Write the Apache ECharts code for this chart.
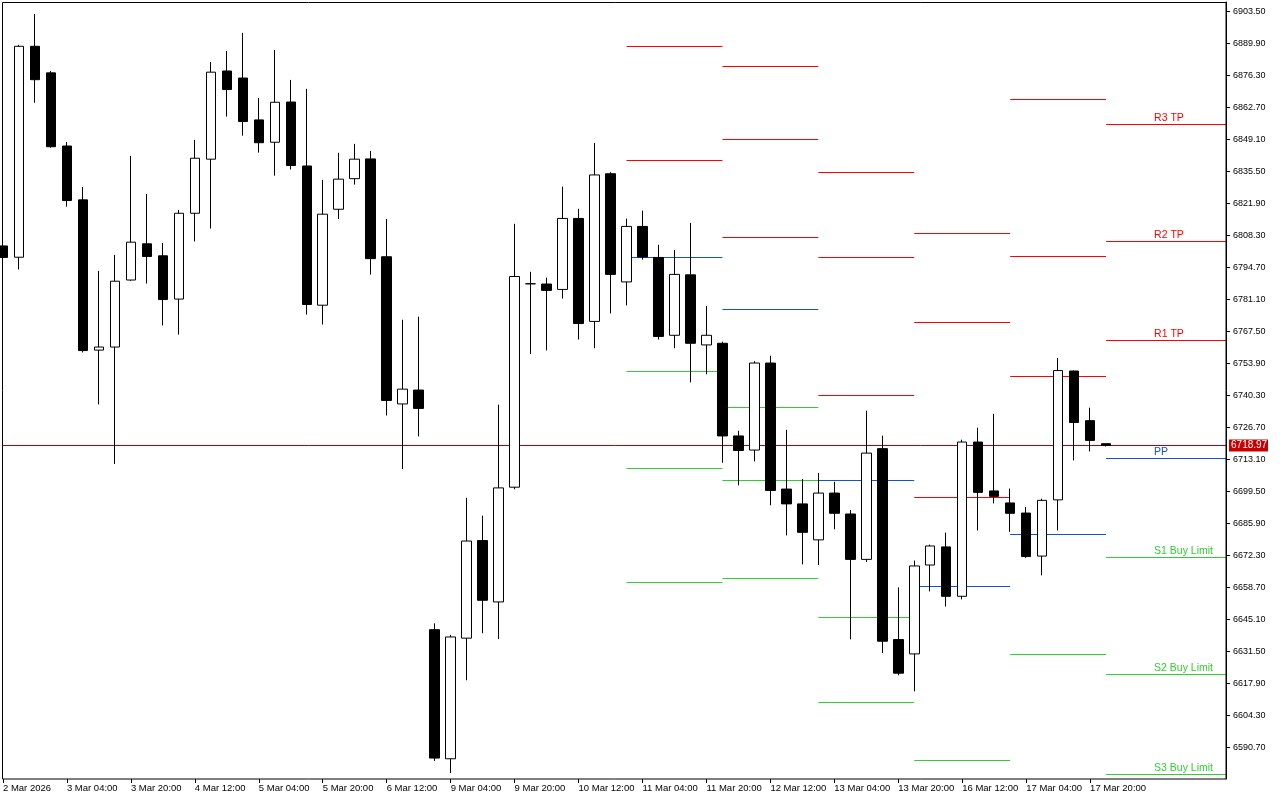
<!DOCTYPE html>
<html><head><meta charset="utf-8">
<script src="https://cdn.jsdelivr.net/npm/echarts@6/dist/echarts.min.js"></script>
<style>html,body{margin:0;padding:0;background:#fff}#c{width:1280px;height:800px}</style>
</head><body><div id="c"></div>
<script>
// ---- bar times (H4) ----
const barTimes = [
 '2 Mar 2026','2 Mar 16:00','2 Mar 20:00',
 '3 Mar 00:00','3 Mar 04:00','3 Mar 08:00','3 Mar 12:00','3 Mar 16:00','3 Mar 20:00',
 '4 Mar 00:00','4 Mar 04:00','4 Mar 08:00','4 Mar 12:00','4 Mar 16:00','4 Mar 20:00',
 '5 Mar 00:00','5 Mar 04:00','5 Mar 08:00','5 Mar 12:00','5 Mar 16:00','5 Mar 20:00',
 '6 Mar 00:00','6 Mar 04:00','6 Mar 08:00','6 Mar 12:00','6 Mar 16:00','6 Mar 20:00',
 '9 Mar 00:00','9 Mar 04:00','9 Mar 08:00','9 Mar 12:00','9 Mar 16:00','9 Mar 20:00',
 '10 Mar 00:00','10 Mar 04:00','10 Mar 08:00','10 Mar 12:00','10 Mar 16:00','10 Mar 20:00',
 '11 Mar 00:00','11 Mar 04:00','11 Mar 08:00','11 Mar 12:00','11 Mar 16:00','11 Mar 20:00',
 '12 Mar 00:00','12 Mar 04:00','12 Mar 08:00','12 Mar 12:00','12 Mar 16:00','12 Mar 20:00',
 '13 Mar 00:00','13 Mar 04:00','13 Mar 08:00','13 Mar 12:00','13 Mar 16:00','13 Mar 20:00',
 '16 Mar 00:00','16 Mar 04:00','16 Mar 08:00','16 Mar 12:00','16 Mar 16:00','16 Mar 20:00',
 '17 Mar 00:00','17 Mar 04:00','17 Mar 08:00','17 Mar 12:00','17 Mar 16:00','17 Mar 20:00',
 '18 Mar 00:00'
];
const emptySlots = ['', '', '', '', '', '', '', ''];

// ---- OHLC ----
const opens = [6803.8,6799.0,6888.7,6877.4,6846.3,6823.4,6759.5,6760.8,6789.3,6804.7,
 6799.6,6781.2,6817.7,6840.7,6878.2,6875.2,6857.4,6847.9,6865.0,6837.8,
 6778.6,6819.4,6832.4,6840.8,6799.2,6736.6,6742.5,6640.6,6585.7,6637.0,
 6678.5,6652.4,6701.2,6787.7,6787.6,6785.3,6815.5,6771.7,6834.5,6788.5,
 6812.1,6798.9,6765.8,6791.5,6761.7,6762.4,6723.0,6717.0,6754.0,6700.4,
 6694.1,6678.8,6698.7,6689.8,6670.5,6717.6,6636.4,6630.3,6668.1,6675.8,
 6654.8,6720.4,6699.6,6694.5,6690.2,6671.9,6695.8,6750.6,6729.5,6719.7];
const highs = [6806.0,6889.3,6902.4,6878.2,6848.0,6828.9,6793.2,6800.0,6842.1,6825.9,
 6805.1,6819.1,6848.9,6882.0,6886.7,6894.4,6866.7,6887.1,6874.4,6870.6,
 6831.9,6843.4,6847.2,6844.2,6815.3,6772.4,6773.7,6643.3,6638.4,6696.7,
 6689.1,6736.3,6813.2,6792.8,6790.3,6829.0,6819.6,6847.6,6835.2,6815.4,
 6818.8,6804.3,6802.1,6813.6,6778.3,6763.1,6725.2,6754.8,6757.1,6725.6,
 6704.7,6707.2,6703.5,6691.5,6733.7,6723.1,6658.6,6670.0,6676.8,6681.9,
 6721.4,6726.5,6732.4,6700.6,6692.8,6696.3,6756.2,6750.8,6735.0,6719.8];
const lows = [6796.0,6793.8,6864.7,6845.6,6820.5,6758.5,6736.4,6711.1,6789.0,6787.8,
 6770.0,6766.1,6805.7,6811.2,6858.8,6850.7,6843.5,6833.7,6836.3,6774.6,
 6770.4,6815.3,6829.9,6791.6,6731.7,6708.9,6722.8,6584.8,6579.6,6619.1,
 6639.1,6636.6,6700.3,6757.8,6759.4,6781.4,6764.0,6760.3,6775.1,6778.5,
 6798.0,6764.0,6760.3,6745.8,6749.2,6711.6,6702.0,6712.2,6693.5,6680.7,
 6668.4,6668.1,6683.3,6636.5,6669.4,6630.7,6621.2,6614.4,6656.9,6650.5,
 6653.5,6682.8,6694.3,6682.2,6671.1,6663.7,6682.8,6712.6,6716.4,6718.5];
const closes = [6798.9,6888.7,6874.5,6846.0,6823.1,6759.3,6760.8,6788.8,6805.4,6799.3,
 6781.0,6817.7,6841.1,6877.7,6870.3,6856.7,6847.7,6864.9,6838.0,6778.9,
 6817.3,6832.2,6840.7,6798.4,6738.1,6742.9,6734.7,6586.0,6637.5,6678.3,
 6653.1,6700.9,6790.8,6787.7,6784.9,6815.5,6770.8,6834.0,6791.7,6812.1,
 6799.1,6765.3,6791.7,6762.4,6765.8,6723.0,6716.8,6754.0,6699.8,6694.1,
 6682.0,6698.7,6690.1,6670.5,6715.7,6635.7,6622.1,6667.7,6676.2,6654.8,
 6720.4,6699.0,6697.3,6690.1,6671.7,6695.6,6750.8,6728.7,6721.1,6718.97];
const currentPrice = 6718.97;

// ---- daily pivot levels (bar index where each day starts / ends) ----
const pivotStart = [39, 45, 51, 57, 63, 69];
const pivotEnd   = [45, 51, 57, 63, 69, null];
const levelR3 = [null,   6880.3, 6835.3, 6809.4, 6866.1, 6855.7];
const levelR2 = [6888.8, 6849.2, 6799.2, 6771.5, 6799.5, 6806.0];
const levelR1 = [6840.3, 6807.5, 6740.4, 6697.0, 6748.6, 6763.9];
const levelPP = [6799.2, 6776.9, 6704.3, 6659.2, 6681.4, 6713.7];
const levelS1 = [6750.7, 6735.2, 6646.0, 6585.0, 6630.4, 6671.7];
const levelS2 = [6709.5, 6704.3, 6609.9, null,   null,   6621.9];
const levelS3 = [6661.0, 6662.6, null,   null,   null,   6579.4];
const levelLabels = ['R3 TP','R2 TP','R1 TP','PP','S1 Buy Limit','S2 Buy Limit','S3 Buy Limit'];
const labelBar = 72;

// ---- y axis ticks ----
const yTickFirst = 6590.70;
const yTickStep = 13.60;
const yMax = 6907.54;

const levelColors = ['#ff0000','#ff0000','#ff0000','#1450d2','#32cd32','#32cd32','#32cd32'];
const levels = [levelR3, levelR2, levelR1, levelPP, levelS1, levelS2, levelS3];

const categories = barTimes.concat(emptySlots);
const candleData = opens.map((o, i) => [o, closes[i], lows[i], highs[i]]);
const pivotData = [];
levels.forEach((arr, l) => arr.forEach((v, d) => { if (v != null) pivotData.push([pivotStart[d], v, l, d]); }));

const chart = echarts.init(document.getElementById('c'), null, {renderer: 'canvas'});
const FONT = '"Liberation Sans", Arial, sans-serif';
const showIdx = (idx) => idx % 4 === 0 && categories[idx] !== '';

// right end of the drawing area = half a slot before the last (empty) category
function plotRight(api, v) {
  const last = api.coord([categories.length - 1, v])[0];
  const prev = api.coord([categories.length - 2, v])[0];
  return last - (last - prev) / 2;
}

chart.setOption({
  animation: false,
  backgroundColor: '#ffffff',
  grid: {left: 2, right: 46, top: 2, bottom: 21, containLabel: false},
  xAxis: {
    type: 'category',
    data: categories,
    boundaryGap: false,
    axisLine: {show: false},
    axisTick: {show: true, length: 4, interval: showIdx, lineStyle: {color: '#000'}},
    axisLabel: {interval: showIdx, align: 'left', margin: 4, color: '#000', fontSize: 9.5, fontFamily: FONT},
    splitLine: {show: false}
  },
  yAxis: {
    type: 'value',
    position: 'right',
    offset: -8,
    scale: true,
    min: yTickFirst - yTickStep,
    max: yMax,
    interval: yTickStep,
    axisLine: {show: true, lineStyle: {color: '#000', width: 1}},
    axisTick: {show: true, length: 4, lineStyle: {color: '#000'}},
    axisLabel: {showMinLabel: false, showMaxLabel: false, margin: 7, color: '#000', fontSize: 9, fontFamily: FONT,
      formatter: (v) => v.toFixed(2)},
    splitLine: {show: false}
  },
  graphic: [{
    type: 'rect', silent: true, z: 100,
    shape: {x: 2.5, y: 2.5, width: 1223.5, height: 776.5},
    style: {fill: 'none', stroke: '#000', lineWidth: 1}
  }],
  series: [
    {
      type: 'custom',
      name: 'pivots',
      silent: true,
      z: 1,
      encode: {x: 0, y: 1},
      data: pivotData,
      clip: false,
      renderItem: function (params, api) {
        const l = api.value(2), d = api.value(3), v = api.value(1);
        const p0 = api.coord([pivotStart[d], v]);
        const xEnd = pivotEnd[d] == null ? plotRight(api, v) : api.coord([pivotEnd[d], v])[0];
        const y = Math.round(p0[1]) + 0.5;
        const color = levelColors[l];
        const children = [{type: 'line', shape: {x1: p0[0], y1: y, x2: xEnd, y2: y},
          style: {stroke: color, lineWidth: 1}}];
        if (pivotEnd[d] == null) {
          children.push({type: 'text', style: {text: levelLabels[l], x: api.coord([labelBar, v])[0], y: y - 1,
            fill: color, font: '10.5px ' + FONT, align: 'left', verticalAlign: 'bottom'}});
        }
        return {type: 'group', children: children};
      }
    },
    {
      type: 'custom',
      name: 'price',
      silent: true,
      z: 2,
      encode: {x: 0, y: 1},
      data: [[0, currentPrice]],
      clip: false,
      renderItem: function (params, api) {
        const v = api.value(1);
        const p = api.coord([0, v]);
        const xr = plotRight(api, v);
        const y = Math.round(p[1]) + 0.5;
        return {type: 'group', children: [
          {type: 'line', shape: {x1: params.coordSys.x, y1: y, x2: xr, y2: y}, style: {stroke: '#b40000', lineWidth: 1}},
          {type: 'rect', shape: {x: xr + 3, y: y - 6, width: 39, height: 12}, style: {fill: '#c80000'}},
          {type: 'text', style: {text: v.toFixed(2), x: xr + 5, y: y, fill: '#fff', font: '10px ' + FONT,
            align: 'left', verticalAlign: 'middle'}}
        ]};
      }
    },
    {
      type: 'candlestick',
      name: 'US500',
      z: 3,
      clip: true,
      barWidth: 10,
      data: candleData,
      itemStyle: {color: '#ffffff', color0: '#000000', borderColor: '#000000', borderColor0: '#000000', borderWidth: 1}
    }
  ]
});
</script></body></html>
